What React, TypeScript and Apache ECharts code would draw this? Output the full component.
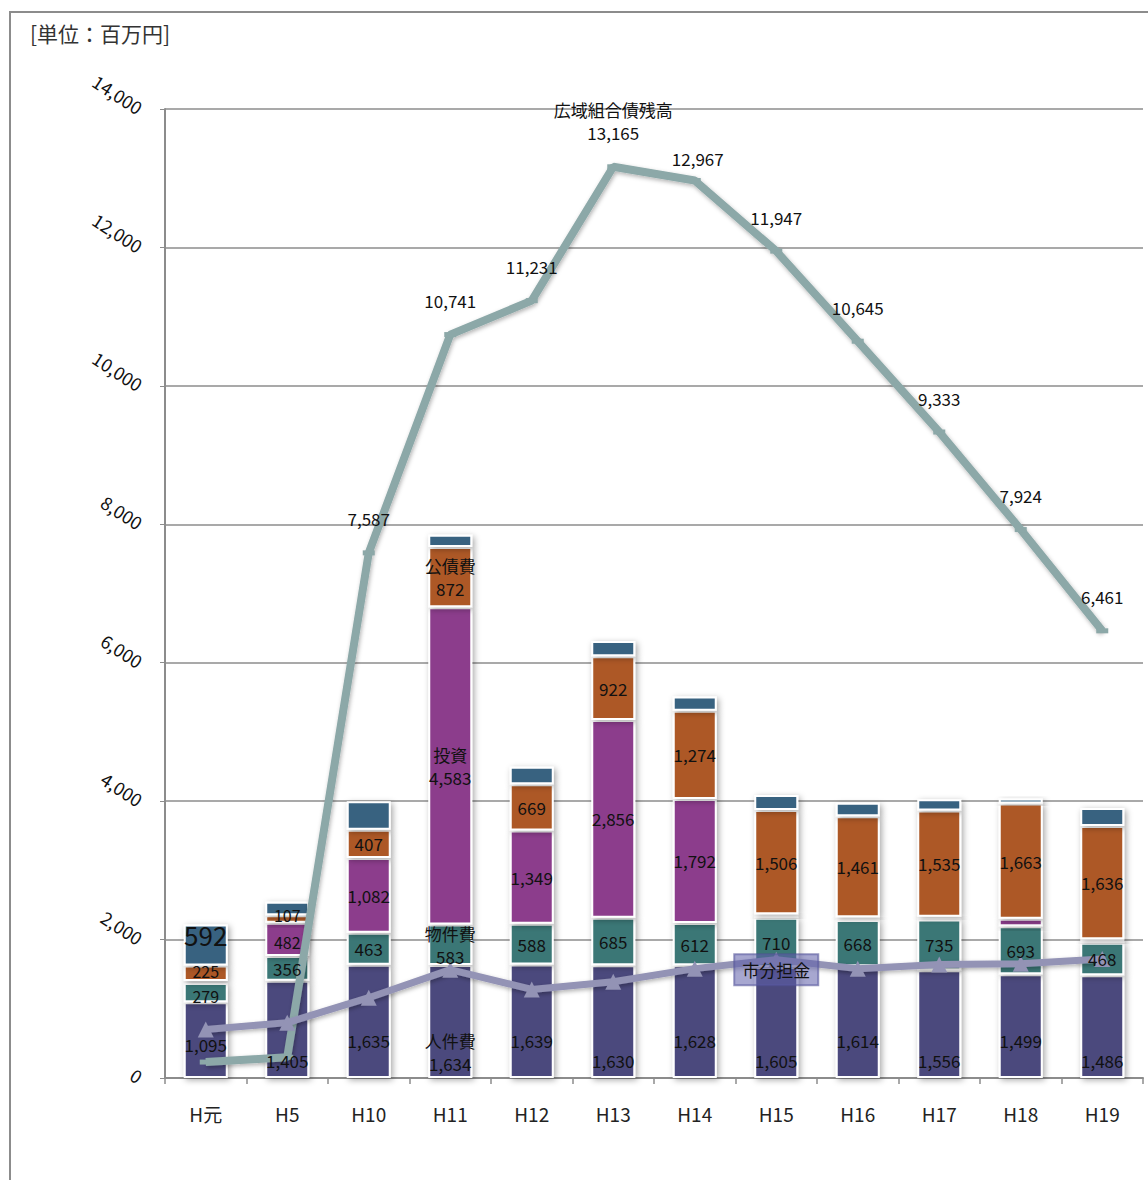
import React, { useEffect, useRef } from "react";
import * as echarts from "echarts";

const categories = ["H元", "H5", "H10", "H11", "H12", "H13", "H14", "H15", "H16", "H17", "H18", "H19"];
const personnel = [1095, 1405, 1635, 1634, 1639, 1630, 1628, 1605, 1614, 1556, 1499, 1486];
const goods = [279, 356, 463, 583, 588, 685, 612, 710, 668, 735, 693, 468];
const investment = [26, 482, 1082, 4583, 1349, 2856, 1792, 50, 40, 40, 110, 50];
const debtService = [225, 107, 407, 872, 669, 922, 1274, 1506, 1461, 1535, 1663, 1636];
const other = [592, 198, 413, 177, 252, 220, 205, 219, 194, 160, 74, 262];
const totals = [2217, 2548, 4000, 7849, 4497, 6313, 5511, 4090, 3977, 4026, 4039, 3902];
const unionDebt = [230, 300, 7587, 10741, 11231, 13165, 12967, 11947, 10645, 9333, 7924, 6461];
const cityShare = [700, 800, 1160, 1565, 1280, 1390, 1580, 1710, 1580, 1640, 1650, 1720];
const yMax = 14000;
const yStep = 2000;

const FONT = "'Noto Sans CJK JP', 'Noto Sans', sans-serif";
const fmt = (v: number) => v.toLocaleString("en-US");

const C_PERSONNEL = "#4b497d";
const C_GOODS = "#3b7776";
const C_INVEST = "#8c3e8c";
const C_DEBT = "#ad5826";
const C_OTHER = "#386280";
const C_UNION = "#8ca8a8";
const C_CITY = "#9393b5";

const barItemStyle = (color: string) => ({
  color,
  borderColor: "#ffffff",
  borderWidth: 2,
  shadowBlur: 6,
  shadowColor: "rgba(0,0,0,0.35)",
  shadowOffsetX: 2,
  shadowOffsetY: 2,
});

const baseLabel = {
  color: "#111",
  fontSize: 17,
  fontFamily: FONT,
  lineHeight: 17,
};

export default function App() {
  const ref = useRef<HTMLDivElement>(null);

  useEffect(() => {
    if (!ref.current) return;
    const chart = echarts.init(ref.current, undefined, { renderer: "svg" });

    const mkBar = (name: string, values: number[], color: string) => ({
      name,
      type: "bar",
      stack: "total",
      barWidth: 44,
      barGap: "-100%",
      z: 2,
      itemStyle: barItemStyle(color),
      data: values,
    });

    const mkLabelBar = (name: string, values: number[], labelFor: (i: number) => any) => ({
      name: name + "_label",
      type: "bar",
      stack: "labels",
      barWidth: 44,
      barGap: "-100%",
      z: 6,
      silent: true,
      itemStyle: { color: "rgba(0,0,0,0)" },
      data: values.map((v, i) => ({ value: v, label: labelFor(i) })),
    });

    const two = { lineHeight: 23 };

    const personnelLabel = (i: number) => {
      const odd = i % 2 === 1;
      return {
        ...baseLabel,
        ...(i === 3 ? two : {}),
        show: true,
        position: "insideBottom",
        distance: i === 3 ? 3 : odd ? 9 : i === 0 ? 25 : 29,
        formatter: i === 3 ? `人件費\n${fmt(personnel[i])}` : fmt(personnel[i]),
      };
    };
    const goodsLabel = (i: number) => ({
      ...baseLabel,
      ...(i === 3 ? two : {}),
      show: true,
      position: "inside",
      fontSize: i === 0 ? 16 : 17,
      offset: i === 0 ? [0, 3] : [0, 0],
      formatter: i === 3 ? `物件費\n${fmt(goods[i])}` : fmt(goods[i]),
    });
    const investLabel = (i: number) => ({
      ...baseLabel,
      ...(i === 3 ? two : {}),
      show: i >= 1 && i <= 6,
      position: "inside",
      fontSize: i === 1 ? 16 : 17,
      offset: i === 1 ? [0, 3] : [0, 0],
      formatter: i === 3 ? `投資\n${fmt(investment[i])}` : fmt(investment[i]),
    });
    const debtLabel = (i: number) => ({
      ...baseLabel,
      ...(i === 3 ? two : {}),
      show: true,
      position: "inside",
      fontSize: i <= 1 ? 16 : 17,
      offset: i === 0 ? [0, -2] : i === 1 ? [0, -4] : [0, 0],
      formatter: i === 3 ? `公債費\n${fmt(debtService[i])}` : fmt(debtService[i]),
    });
    const otherLabel = (i: number) => ({
      ...baseLabel,
      show: i === 0,
      position: "inside",
      fontSize: 26,
      lineHeight: 24,
      offset: [0, -11],
      formatter: fmt(other[i]),
    });

    const totalDistance = (i: number) => (i === 2 ? 5 : i === 7 || i === 9 ? 45 : 20);

    const option = {
      animation: false,
      backgroundColor: "#ffffff",
      textStyle: { fontFamily: FONT },
      grid: { left: 165, right: 5, top: 109, bottom: 102, containLabel: false },
      graphic: [
        {
          type: "rect",
          shape: { x: 10, y: 12, width: 1200, height: 1200 },
          style: { fill: "none", stroke: "#8c8c8c", lineWidth: 2 },
          silent: true,
        },
        {
          type: "text",
          left: 30,
          top: 22,
          style: { text: "[単位：百万円]", fill: "#333", fontSize: 21, fontFamily: FONT },
        },
      ],
      xAxis: {
        type: "category",
        data: categories,
        axisLine: { show: true, lineStyle: { color: "#8c8c8c", width: 2 } },
        axisTick: { show: true, length: 6, lineStyle: { color: "#8c8c8c", width: 1.5 } },
        axisLabel: { color: "#222", fontSize: 19, fontFamily: FONT, margin: 26 },
      },
      yAxis: {
        type: "value",
        min: 0,
        max: yMax,
        interval: yStep,
        axisLine: { show: true, lineStyle: { color: "#8c8c8c", width: 2 } },
        axisTick: { show: true, length: 5, lineStyle: { color: "#8c8c8c" } },
        splitLine: { show: true, lineStyle: { color: "#8c8c8c", width: 1.5 } },
        axisLabel: {
          color: "#111",
          fontSize: 18,
          fontFamily: FONT,
          rotate: -33,
          margin: 24,
          formatter: (v: number) => fmt(v),
        },
      },
      series: [
        mkBar("人件費", personnel, C_PERSONNEL),
        mkBar("物件費", goods, C_GOODS),
        mkBar("投資", investment, C_INVEST),
        mkBar("公債費", debtService, C_DEBT),
        mkBar("その他", other, C_OTHER),
        mkLabelBar("人件費", personnel, personnelLabel),
        mkLabelBar("物件費", goods, goodsLabel),
        mkLabelBar("投資", investment, investLabel),
        mkLabelBar("公債費", debtService, debtLabel),
        mkLabelBar("その他", other, otherLabel),
        {
          name: "広域組合債残高",
          type: "line",
          z: 3,
          symbol: "rect",
          symbolSize: [12, 5],
          itemStyle: { color: C_UNION },
          lineStyle: {
            color: C_UNION,
            width: 8,
            shadowBlur: 4,
            shadowColor: "rgba(0,0,0,0.3)",
            shadowOffsetX: 1,
            shadowOffsetY: 2,
          },
          data: unionDebt.map((v, i) => ({
            value: v,
            label: {
              ...baseLabel,
              lineHeight: 23,
              show: i >= 2,
              position: "top",
              distance: i === 6 ? 8 : 20,
              offset: i === 6 ? [3, 0] : [0, 0],
              formatter: i === 5 ? `広域組合債残高\n${fmt(v)}` : fmt(v),
            },
          })),
        },
        {
          name: "市分担金",
          type: "line",
          z: 3,
          symbol: "triangle",
          symbolSize: 16,
          itemStyle: { color: C_CITY },
          lineStyle: {
            color: C_CITY,
            width: 7,
            shadowBlur: 4,
            shadowColor: "rgba(0,0,0,0.3)",
            shadowOffsetX: 1,
            shadowOffsetY: 2,
          },
          data: cityShare.map((v, i) => ({
            value: v,
            label: {
              ...baseLabel,
              lineHeight: 19,
              show: i === 7,
              position: "inside",
              offset: [0, 10],
              backgroundColor: "rgba(95,95,170,0.55)",
              borderColor: "rgba(80,80,150,0.6)",
              borderWidth: 1,
              padding: [6, 8, 6, 8],
              formatter: "市分担金",
            },
          })),
        },
        {
          name: "計",
          type: "scatter",
          z: 7,
          symbolSize: 1,
          itemStyle: { opacity: 0 },
          silent: true,
          data: totals.map((v, i) => ({
            value: v,
            label: {
              ...baseLabel,
              lineHeight: 23,
              show: true,
              position: "top",
              distance: totalDistance(i),
              formatter: i === 3 ? `計\n${fmt(v)}` : fmt(v),
            },
          })),
        },
      ],
    };

    chart.setOption(option as any);
    return () => chart.dispose();
  }, []);

  return (
    <div
      ref={ref}
      style={{ position: "fixed", left: 0, top: 0, width: 1148, height: 1180, background: "#fff" }}
    />
  );
}
